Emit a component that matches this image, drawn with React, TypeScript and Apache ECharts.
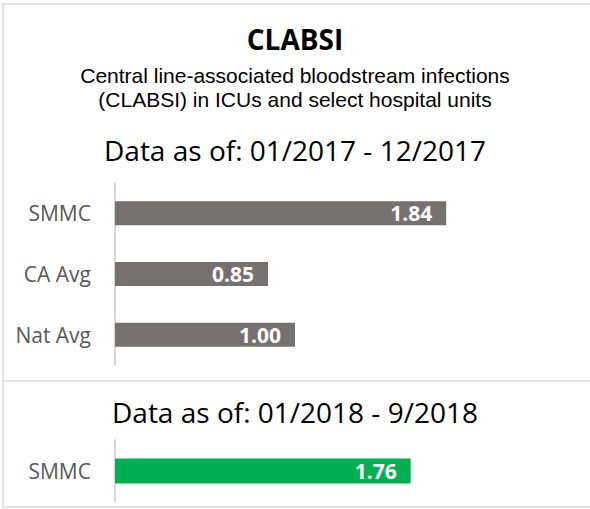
import React, { useEffect, useRef } from "react";
import * as echarts from "echarts";

const categories2017 = ["SMMC", "CA Avg", "Nat Avg"];
const values2017 = [1.84, 0.85, 1.0];
const categories2018 = ["SMMC"];
const values2018 = [1.76];

const titleText = "CLABSI";
const subtitleLine1 = "Central line-associated bloodstream infections";
const subtitleLine2 = "(CLABSI) in ICUs and select hospital units";
const period1 = "Data as of: 01/2017 - 12/2017";
const period2 = "Data as of: 01/2018 - 9/2018";

const FONT = "'Open Sans', Lato, sans-serif";
const SUB_FONT = "'Liberation Sans', Arial, sans-serif";

export default function App() {
  const ref = useRef<HTMLDivElement>(null);
  useEffect(() => {
    document.body.style.margin = "0";
    if (!ref.current) return;
    const chart = echarts.init(ref.current, undefined, { renderer: "svg" });
    const labelCommon = {
      show: true,
      position: "insideRight",
      color: "#ffffff",
      fontWeight: "bold",
      fontSize: 21,
      fontFamily: FONT,
      distance: 14,
      formatter: (p: any) => Number(p.value).toFixed(2),
    };
    const catAxisCommon = {
      type: "category",
      inverse: true,
      axisLine: { show: true, lineStyle: { color: "#d9d9d9", width: 2 } },
      axisTick: { show: false },
      axisLabel: { color: "#595959", fontSize: 21, fontFamily: FONT, margin: 24 },
    };
    const subStyle = { fontSize: 21, fontWeight: "normal", color: "#000", fontFamily: SUB_FONT, lineHeight: 22 };
    chart.setOption({
      animation: false,
      backgroundColor: "#ffffff",
      title: [
        {
          text: titleText,
          left: "center",
          top: 19,
          textStyle: { fontSize: 28, fontWeight: "bold", color: "#000", fontFamily: FONT, lineHeight: 30 },
        },
        { text: subtitleLine1, left: "center", top: 64, padding: 0, textStyle: subStyle },
        { text: subtitleLine2, left: "center", top: 88.5, padding: 0, textStyle: subStyle },
        {
          text: period1,
          left: "center",
          top: 130,
          textStyle: { fontSize: 28, fontWeight: "normal", color: "#000", fontFamily: FONT, lineHeight: 30 },
        },
        {
          text: period2,
          left: "center",
          top: 392,
          textStyle: { fontSize: 28, fontWeight: "normal", color: "#000", fontFamily: FONT, lineHeight: 30 },
        },
      ],
      graphic: [
        {
          type: "rect",
          shape: { x: 3, y: 4, width: 600, height: 503 },
          style: { fill: "none", stroke: "#d9d9d9", lineWidth: 1.5 },
          silent: true,
        },
        {
          type: "line",
          shape: { x1: 3, y1: 381, x2: 600, y2: 381 },
          style: { stroke: "#d9d9d9", lineWidth: 1.5 },
          silent: true,
        },
      ],
      grid: [
        { left: 115, top: 183, width: 450, height: 182 },
        { left: 115, top: 440, width: 336, height: 62 },
      ],
      xAxis: [
        { type: "value", gridIndex: 0, min: 0, max: 2.5, show: false },
        { type: "value", gridIndex: 1, min: 0, max: 2, show: false },
      ],
      yAxis: [
        { ...catAxisCommon, gridIndex: 0, data: categories2017 },
        { ...catAxisCommon, gridIndex: 1, data: categories2018 },
      ],
      series: [
        {
          type: "bar",
          xAxisIndex: 0,
          yAxisIndex: 0,
          data: values2017,
          barWidth: 24,
          itemStyle: { color: "#767171" },
          label: labelCommon,
        },
        {
          type: "bar",
          xAxisIndex: 1,
          yAxisIndex: 1,
          data: values2018,
          barWidth: 25,
          itemStyle: { color: "#00b050" },
          label: labelCommon,
        },
      ],
    });
    return () => chart.dispose();
  }, []);
  return <div ref={ref} style={{ width: 590, height: 509 }} />;
}
